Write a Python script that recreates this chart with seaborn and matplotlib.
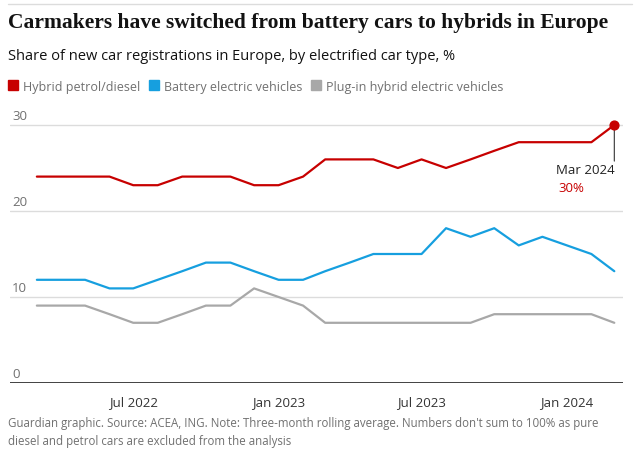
import pandas as pd
import seaborn as sns
import matplotlib.pyplot as plt
from matplotlib.lines import Line2D

# Monthly, three-month rolling average, % of new car registrations
months = pd.date_range("2022-03-01", "2024-03-01", freq="MS")
hybrid = [24, 24, 24, 24, 23, 23, 24, 24, 24, 23, 23, 24,
          26, 26, 26, 25, 26, 25, 26, 27, 28, 28, 28, 28, 30]
battery = [12, 12, 12, 11, 11, 12, 13, 14, 14, 13, 12, 12,
           13, 14, 15, 15, 15, 18, 17, 18, 16, 17, 16, 15, 13]
plugin = [9, 9, 9, 8, 7, 7, 8, 9, 9, 11, 10, 9,
          7, 7, 7, 7, 7, 7, 7, 8, 8, 8, 8, 8, 7]

series_names = ["Hybrid petrol/diesel", "Battery electric vehicles", "Plug-in hybrid electric vehicles"]
colors = ["#c70000", "#169fdf", "#a8a8a8"]
tick_dates = ["2022-07-01", "2023-01-01", "2023-07-01", "2024-01-01"]
tick_labels = ["Jul 2022", "Jan 2023", "Jul 2023", "Jan 2024"]
y_ticks = [0, 10, 20, 30]

df = pd.concat([
    pd.DataFrame({"month": months, "share": vals, "type": name})
    for name, vals in zip(series_names, [hybrid, battery, plugin])
])

sns.set_style("white")
plt.rcParams["font.family"] = ["Open Sans", "DejaVu Sans"]

fig = plt.figure(figsize=(6.4, 4.52), dpi=100)
ax = fig.add_axes([10 / 640, 1 - 384 / 452, 613 / 640, 266.6 / 452])

sns.lineplot(data=df, x="month", y="share", hue="type", palette=dict(zip(series_names, colors)),
             linewidth=1.6, legend=False, ax=ax, zorder=3)

ax.set_ylim(0, 31)
ax.set_xlim(months[0] - pd.Timedelta(days=34), months[-1] + pd.Timedelta(days=11))

# gridlines + labels sitting above them
for v in y_ticks:
    if v == 0:
        ax.axhline(v, color="#333333", lw=1.3, zorder=2)
    else:
        ax.axhline(v, color="#dcdcdc", lw=1, zorder=1)
    ax.annotate(str(v), xy=(0, v), xycoords=("axes fraction", "data"), xytext=(1.5, 2),
                textcoords="offset points", ha="left", va="bottom", fontsize=9.5, color="#707070")

ax.set_yticks([])
ax.set_xticks(pd.to_datetime(tick_dates))
ax.set_xticklabels(tick_labels, fontsize=9.5, color="#333333")
ax.tick_params(axis="x", length=4, width=0.8, color="#999999", pad=5)
ax.set_xlabel("")
ax.set_ylabel("")
for s in ax.spines.values():
    s.set_visible(False)

# last point annotation
ax.scatter([months[-1]], [hybrid[-1]], s=40, color=colors[0], zorder=5)
ax.annotate("", xy=(months[-1], hybrid[-1]), xytext=(0, -26), textcoords="offset points",
            arrowprops=dict(arrowstyle="-", color="#333333", lw=0.8, shrinkA=0, shrinkB=0))
ax.annotate("Mar 2024", xy=(months[-1], hybrid[-1]), xytext=(0, -32), textcoords="offset points",
            ha="right", va="center", fontsize=9.5, color="#222222")
ax.annotate(f"{hybrid[-1]}%", xy=(months[-1], hybrid[-1]), xytext=(-40, -45), textcoords="offset points",
            ha="left", va="center", fontsize=9.5, color=colors[0])

# header
fig.add_artist(Line2D([8 / 640, 632 / 640], [1 - 5 / 452] * 2, color="#dcdcdc", lw=1))
fig.text(8 / 640, 1 - 23 / 452, "Carmakers have switched from battery cars to hybrids in Europe",
         fontsize=15.5, fontweight="bold", family=["Liberation Serif"], va="center", color="#121212")
fig.text(8 / 640, 1 - 57 / 452, "Share of new car registrations in Europe, by electrified car type, %",
         fontsize=10.5, va="center", color="#121212")

handles = [Line2D([], [], marker="s", linestyle="none", markersize=7, color=c) for c in colors]
fig.legend(handles, series_names, loc="center left", bbox_to_anchor=(-3 / 640, 1 - 87 / 452),
           ncol=3, frameon=False, fontsize=9, handlelength=0.8, handletextpad=0.35,
           columnspacing=0.75, labelcolor="#707070")

fig.text(8 / 640, 1 - 417 / 452,
         "Guardian graphic. Source: ACEA, ING. Note: Three-month rolling average. Numbers don't sum to 100% as pure\n"
         "diesel and petrol cars are excluded from the analysis",
         fontsize=8.3, va="top", color="#707070", linespacing=1.5)

fig.savefig("out.png", dpi=100)
